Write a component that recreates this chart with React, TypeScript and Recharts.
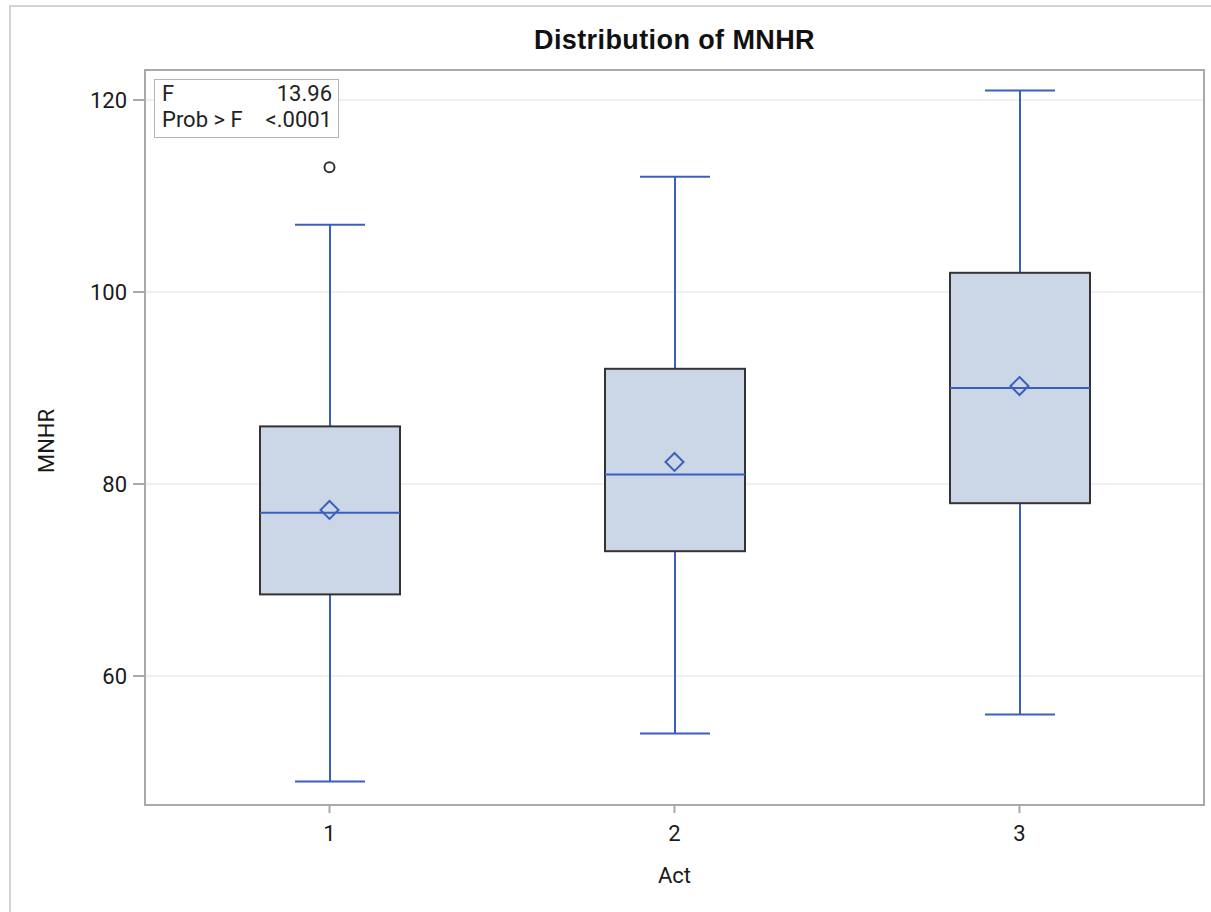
import * as R from 'recharts';
import { ComposedChart, Bar, Scatter, XAxis, YAxis, CartesianGrid } from 'recharts';

const acts = ['1', '2', '3'];
const whiskerLow = [49, 54, 56];
const q1 = [68.5, 73, 78];
const median = [77, 81, 90];
const q3 = [86, 92, 102];
const whiskerHigh = [107, 112, 121];
const means = [77.3, 82.3, 90.2];
const outliers: (number | null)[] = [113, null, null];
const yTicks = [60, 80, 100, 120];

const data = acts.map((act, i) => ({
  act,
  low: whiskerLow[i],
  q1: q1[i],
  median: median[i],
  q3: q3[i],
  high: whiskerHigh[i],
  mean: means[i],
  outlier: outliers[i],
}));

const BLUE = '#3a5fbf';
const AXIS = '#a6a9ad';
const FONT = 'Roboto, "Liberation Sans", Arial, sans-serif';

const usePlotAreaSafe: () => any = (R as any).usePlotArea ?? (() => null);

// frame around the plot area, like SAS draws it
const Frame = () => {
  const p = usePlotAreaSafe();
  if (!p) return null;
  return <rect x={p.x} y={p.y} width={p.width} height={p.height} fill="none" stroke={AXIS} strokeWidth={2} />;
};

const BoxShape = (props: any) => {
  const { x, y, width, height, payload } = props;
  const top = Math.min(y, y + height);
  const bot = Math.max(y, y + height);
  const { low, high } = payload;
  const py = (v: number) => bot - ((v - low) / (high - low)) * (bot - top);
  const cx = x + width / 2;
  const cap = width / 4;
  return (
    <g>
      <line x1={cx} x2={cx} y1={py(high)} y2={py(payload.q3)} stroke={BLUE} strokeWidth={2} />
      <line x1={cx} x2={cx} y1={py(payload.q1)} y2={py(low)} stroke={BLUE} strokeWidth={2} />
      <line x1={cx - cap} x2={cx + cap} y1={py(high)} y2={py(high)} stroke={BLUE} strokeWidth={2} />
      <line x1={cx - cap} x2={cx + cap} y1={py(low)} y2={py(low)} stroke={BLUE} strokeWidth={2} />
      <rect
        x={x}
        y={py(payload.q3)}
        width={width}
        height={py(payload.q1) - py(payload.q3)}
        fill="#cbd6e6"
        stroke="#333"
        strokeWidth={2}
      />
      <line x1={x} x2={x + width} y1={py(payload.median)} y2={py(payload.median)} stroke={BLUE} strokeWidth={2} />
    </g>
  );
};

const MeanShape = (props: any) => {
  const { cx, cy } = props;
  if (cx == null || cy == null || isNaN(cy)) return null;
  const s = 9;
  return (
    <polygon
      points={`${cx},${cy - s} ${cx + s},${cy} ${cx},${cy + s} ${cx - s},${cy}`}
      fill="none"
      stroke={BLUE}
      strokeWidth={2}
    />
  );
};

const OutlierShape = (props: any) => {
  const { cx, cy, payload } = props;
  if (payload == null || payload.outlier == null || cy == null || isNaN(cy)) return null;
  return <circle cx={cx} cy={cy} r={5} fill="none" stroke="#333" strokeWidth={2} />;
};

const tickStyle = { fontSize: 22, fill: '#1a1a1a', fontFamily: FONT };

export default function App() {
  return (
    <div style={{ position: 'absolute', left: 0, top: 0, width: 1211, height: 912, background: '#fff', overflow: 'hidden', fontFamily: FONT }}>
      <div style={{ position: 'absolute', left: 9, top: 5, width: 1300, height: 1000, border: '2px solid #d4d4d4', boxSizing: 'border-box' }} />
      <ComposedChart
        width={1211}
        height={912}
        data={data}
        margin={{ top: 70, right: 7, bottom: 47, left: 85 }}
        style={{ position: 'absolute', left: 0, top: 0 }}
      >
        <CartesianGrid vertical={false} stroke="#ebebeb" strokeWidth={1.5} />
        <XAxis
          dataKey="act"
          type="category"
          padding={{ left: 12, right: 12 }}
          height={60}
          tickSize={8}
          tickMargin={12}
          tick={tickStyle}
          stroke={AXIS}
          strokeWidth={2}
        />
        <YAxis
          domain={[46.5625, 123.125]}
          allowDataOverflow
          ticks={yTicks}
          width={60}
          tickSize={12}
          tickMargin={6}
          tick={tickStyle}
          stroke={AXIS}
          strokeWidth={2}
        />
        <Frame />
        <Bar dataKey={(d: any) => [d.low, d.high]} barSize={140} shape={BoxShape} isAnimationActive={false} />
        <Scatter dataKey="mean" shape={MeanShape} isAnimationActive={false} />
        <Scatter dataKey="outlier" shape={OutlierShape} isAnimationActive={false} />
      </ComposedChart>
      <div
        style={{
          position: 'absolute',
          left: 0,
          width: 1349,
          top: 25,
          textAlign: 'center',
          fontSize: 27,
          fontWeight: 700,
          letterSpacing: 0.4,
          color: '#111',
          fontFamily: '"Liberation Sans", Arial, sans-serif',
        }}
      >
        Distribution of MNHR
      </div>
      <div
        style={{
          position: 'absolute',
          left: 154,
          top: 79,
          width: 185,
          height: 59,
          border: '1.5px solid #b4b4b4',
          boxSizing: 'border-box',
          background: '#fff',
          fontSize: 22,
          color: '#222',
          lineHeight: '26px',
          padding: '1px 6px 0 7px',
        }}
      >
        <div style={{ display: 'flex', justifyContent: 'space-between' }}>
          <span>F</span>
          <span>13.96</span>
        </div>
        <div style={{ display: 'flex', justifyContent: 'space-between' }}>
          <span>Prob &gt; F</span>
          <span>&lt;.0001</span>
        </div>
      </div>
      <div style={{ position: 'absolute', left: 0, width: 1349, top: 863, textAlign: 'center', fontSize: 22, color: '#1a1a1a' }}>Act</div>
      <div
        style={{
          position: 'absolute',
          left: 46,
          top: 441,
          transform: 'translate(-50%, -50%) rotate(-90deg)',
          fontSize: 22,
          color: '#1a1a1a',
          whiteSpace: 'nowrap',
        }}
      >
        MNHR
      </div>
    </div>
  );
}
